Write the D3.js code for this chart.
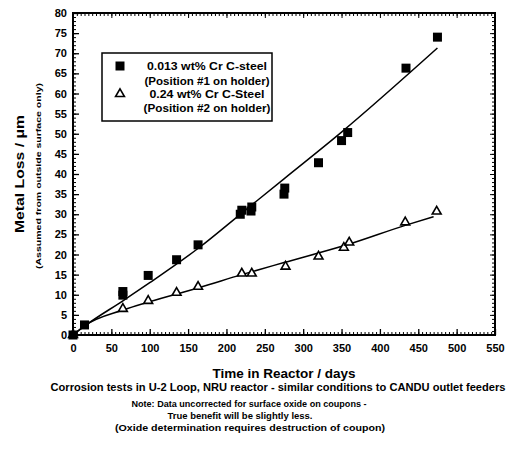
<!DOCTYPE html>
<html>
<head>
<meta charset="utf-8">
<script src="https://cdn.jsdelivr.net/npm/d3@7"></script>
<style>
  body { margin: 0; background: #fff; }
  svg { font-family: "Liberation Sans", Arial, sans-serif; }
</style>
</head>
<body>
<svg id="chart" width="525" height="451"></svg>
<script>
// data
var steelA_days = [0, 15, 65, 65, 98, 135, 163, 218, 220, 232, 233, 275, 276, 320, 350, 358, 434, 475];
var steelA_loss = [0, 2.5, 9.9, 10.8, 14.8, 18.7, 22.4, 30, 31, 30.8, 31.8, 35, 36.5, 42.8, 48.3, 50.3, 66.3, 74];
var steelB_days = [0, 65, 98, 135, 163, 220, 233, 277, 320, 353, 360, 433, 474];
var steelB_loss = [0, 6.5, 8.5, 10.5, 12, 15.3, 15.3, 17, 19.5, 21.7, 23, 28, 30.7];

// fitted curves
var fitA_days = [0, 15, 65, 100, 165, 220, 275, 350, 475];
var fitA_loss = [0, 2.2, 8.5, 13, 21.8, 30.3, 38.8, 50.4, 71.3];
var fitB_days = [0, 15, 65, 100, 165, 220, 275, 357, 434, 470];
var fitB_loss = [0, 2.3, 6.2, 8.3, 11.8, 15, 18, 22.4, 27.3, 29.4];

var xTicks = d3.range(0, 551, 50);
var yTicks = d3.range(0, 81, 5);

var legendLabels = ["0.013 wt% Cr C-steel", "(Position #1 on holder)",
                    "0.24 wt% Cr C-Steel", "(Position #2 on holder)"];
var notes = ["Note: Data uncorrected for surface oxide on coupons -",
             "True benefit will be slightly less.",
             "(Oxide determination requires destruction of coupon)"];

var svg = d3.select("#chart");
var x = d3.scaleLinear().domain([0, 550]).range([73, 495]);
var y = d3.scaleLinear().domain([0, 80]).range([335, 13]);

var zip = function(a, b){ return a.map(function(d, i){ return [d, b[i]]; }); };

// minor ticks on all four sides, pointing inward
function minorAxis(axis, tr) {
    var g = svg.append("g").attr("transform", tr).call(axis);
    g.selectAll("text").remove();
    g.select(".domain").remove();
    g.selectAll("line").attr("stroke-width", 1);
    return g;
}
minorAxis(d3.axisBottom(x).tickValues(d3.range(0, 551, 5)).tickSize(-3), "translate(0,335)");
minorAxis(d3.axisTop(x).tickValues(d3.range(0, 551, 5)).tickSize(-3), "translate(0,13)");
minorAxis(d3.axisLeft(y).tickValues(d3.range(0, 81, 1)).tickSize(-3), "translate(73,0)");
minorAxis(d3.axisRight(y).tickValues(d3.range(0, 81, 1)).tickSize(-3), "translate(495,0)");

// major ticks and labels
var xa = svg.append("g").attr("transform", "translate(0,335)")
    .call(d3.axisBottom(x).tickValues(xTicks).tickSize(-6).tickPadding(9));
var ya = svg.append("g").attr("transform", "translate(73,0)")
    .call(d3.axisLeft(y).tickValues(yTicks).tickSize(-6).tickPadding(6));
[xa, ya].forEach(function(g){
    g.select(".domain").remove();
    g.selectAll("line").attr("stroke-width", 1.3);
    g.selectAll("text").attr("font-size", 11).attr("font-weight", "bold")
        .attr("font-family", "'Liberation Sans', Arial, sans-serif").attr("fill", "#000");
});
minorAxis(d3.axisTop(x).tickValues(xTicks).tickSize(-5), "translate(0,13)");
minorAxis(d3.axisRight(y).tickValues(yTicks).tickSize(-5), "translate(495,0)");

// frame
svg.append("rect").attr("x", 73).attr("y", 13).attr("width", 422).attr("height", 322)
    .attr("fill", "none").attr("stroke", "#000").attr("stroke-width", 2);

// fitted lines
var line = d3.line().x(function(d){ return x(d[0]); }).y(function(d){ return y(d[1]); })
    .curve(d3.curveMonotoneX);
[zip(fitA_days, fitA_loss), zip(fitB_days, fitB_loss)].forEach(function(pts){
    svg.append("path").attr("d", line(pts)).attr("fill", "none")
        .attr("stroke", "#000").attr("stroke-width", 1.5);
});

// markers
var sq = d3.symbol().type(d3.symbolSquare).size(81);
var tri = d3.symbol().type(d3.symbolTriangle).size(34);
svg.append("g").selectAll("path").data(zip(steelB_days, steelB_loss)).enter().append("path")
    .attr("d", tri).attr("transform", function(d){ return "translate(" + x(d[0]) + "," + y(d[1]) + ")"; })
    .attr("fill", "#fff").attr("stroke", "#000").attr("stroke-width", 1.6);
svg.append("g").selectAll("path").data(zip(steelA_days, steelA_loss)).enter().append("path")
    .attr("d", sq).attr("transform", function(d){ return "translate(" + x(d[0]) + "," + y(d[1]) + ")"; })
    .attr("fill", "#000");

// legend
var lg = svg.append("g");
lg.append("rect").attr("x", 102).attr("y", 53).attr("width", 170).attr("height", 68)
    .attr("fill", "#fff").attr("stroke", "#000").attr("stroke-width", 1.5);
lg.append("path").attr("d", sq).attr("transform", "translate(120,66)").attr("fill", "#000");
lg.append("path").attr("d", tri).attr("transform", "translate(120,94)")
    .attr("fill", "#fff").attr("stroke", "#000").attr("stroke-width", 1.6);
var legY = [66, 81, 94, 108];
var legW = [120, 125, 115, 127];
lg.selectAll("text").data(legendLabels).enter().append("text")
    .attr("x", 207).attr("y", function(d, i){ return legY[i] + 4; })
    .attr("text-anchor", "middle").attr("font-size", 10).attr("font-weight", "bold")
    .attr("textLength", function(d, i){ return legW[i]; }).attr("lengthAdjust", "spacingAndGlyphs")
    .text(function(d){ return d; });

// axis titles
svg.append("text").attr("transform", "translate(24,174) rotate(-90)")
    .attr("text-anchor", "middle").attr("font-size", 13).attr("font-weight", "bold")
    .attr("textLength", 118).attr("lengthAdjust", "spacingAndGlyphs")
    .text("Metal Loss / μm");
svg.append("text").attr("transform", "translate(41,176) rotate(-90)")
    .attr("text-anchor", "middle").attr("font-size", 7.5).attr("font-weight", "bold")
    .attr("textLength", 186).attr("lengthAdjust", "spacingAndGlyphs")
    .text("(Assumed from outside surface only)");
svg.append("text").attr("x", 284).attr("y", 378)
    .attr("text-anchor", "middle").attr("font-size", 13.5).attr("font-weight", "bold")
    .text("Time in Reactor / days");
svg.append("text").attr("x", 278).attr("y", 391)
    .attr("text-anchor", "middle").attr("font-size", 10).attr("font-weight", "bold")
    .attr("textLength", 455).attr("lengthAdjust", "spacingAndGlyphs")
    .text("Corrosion tests in U-2 Loop, NRU reactor - similar conditions to CANDU outlet feeders");
var noteX = [249, 240, 250];
var noteW = [235, 145, 270];
svg.selectAll("text.note").data(notes).enter().append("text").attr("class", "note")
    .attr("x", function(d, i){ return noteX[i]; }).attr("y", function(d, i){ return 407 + i * 12; })
    .attr("text-anchor", "middle").attr("font-size", 9.5).attr("font-weight", "bold")
    .attr("textLength", function(d, i){ return noteW[i]; }).attr("lengthAdjust", "spacingAndGlyphs")
    .text(function(d){ return d; });
</script>
</body>
</html>
